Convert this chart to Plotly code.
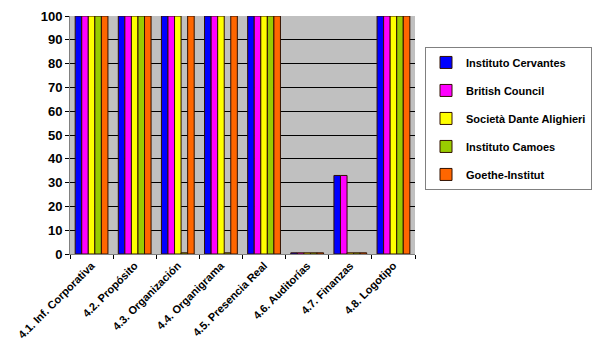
import plotly.graph_objects as go

categories = ["4.1. Inf. Corporativa", "4.2. Propósito", "4.3. Organización", "4.4. Organigrama",
              "4.5. Presencia Real", "4.6. Auditorías", "4.7. Finanzas", "4.8. Logotipo"]
cervantes = [100, 100, 100, 100, 100, 0.5, 33, 100]
british = [100, 100, 100, 100, 100, 0.5, 33, 100]
dante = [100, 100, 100, 100, 100, 0.5, 0.5, 100]
camoes = [100, 100, 0.5, 0.5, 100, 0.5, 0.5, 100]
goethe = [100, 100, 100, 100, 100, 0.5, 0.5, 100]

series = [
    ("Instituto Cervantes", cervantes, "#0000FF"),
    ("British Council", british, "#FF00FF"),
    ("Società Dante Alighieri", dante, "#FFFF00"),
    ("Instituto Camoes", camoes, "#99CC00"),
    ("Goethe-Institut", goethe, "#FF6600"),
]
y_ticks = list(range(0, 101, 10))

fig = go.Figure()
for i, (name, vals, color) in enumerate(series):
    fig.add_trace(go.Bar(
        name=name, x=categories, y=vals, legendgroup=f"g{i}",
        marker=dict(color=color, line=dict(color="#301000", width=1)),
    ))

font_family = "Liberation Sans, Arial, sans-serif"
fig.update_layout(
    width=592, height=350,
    margin=dict(l=62, r=180, t=8, b=104),
    paper_bgcolor="white", plot_bgcolor="#C0C0C0",
    barmode="group", bargap=0.24, bargroupgap=0,
    font=dict(family=font_family, color="black"),
    showlegend=True,
    legend=dict(
        x=1.029, y=0.87, xanchor="left", yanchor="top",
        bgcolor="white", bordercolor="#808080", borderwidth=1,
        font=dict(family=font_family, size=11, weight="bold", color="black"),
        tracegroupgap=9, itemwidth=30,
    ),
    xaxis=dict(
        tickangle=-45, tickfont=dict(size=11, weight="bold"),
        ticks="outside", tickson="boundaries", ticklen=4, tickcolor="black",
        showline=True, linecolor="#808080", linewidth=1,
        showgrid=False, automargin=False,
    ),
    yaxis=dict(
        range=[0, 100], tickvals=y_ticks, tickfont=dict(size=13, weight="bold"),
        ticks="outside", ticklen=4, tickcolor="black", ticklabeloverflow="allow",
        showline=True, linecolor="#808080", linewidth=1,
        showgrid=True, gridcolor="black", gridwidth=1,
        zeroline=False, automargin=False,
    ),
)

fig.write_html("out.html")
